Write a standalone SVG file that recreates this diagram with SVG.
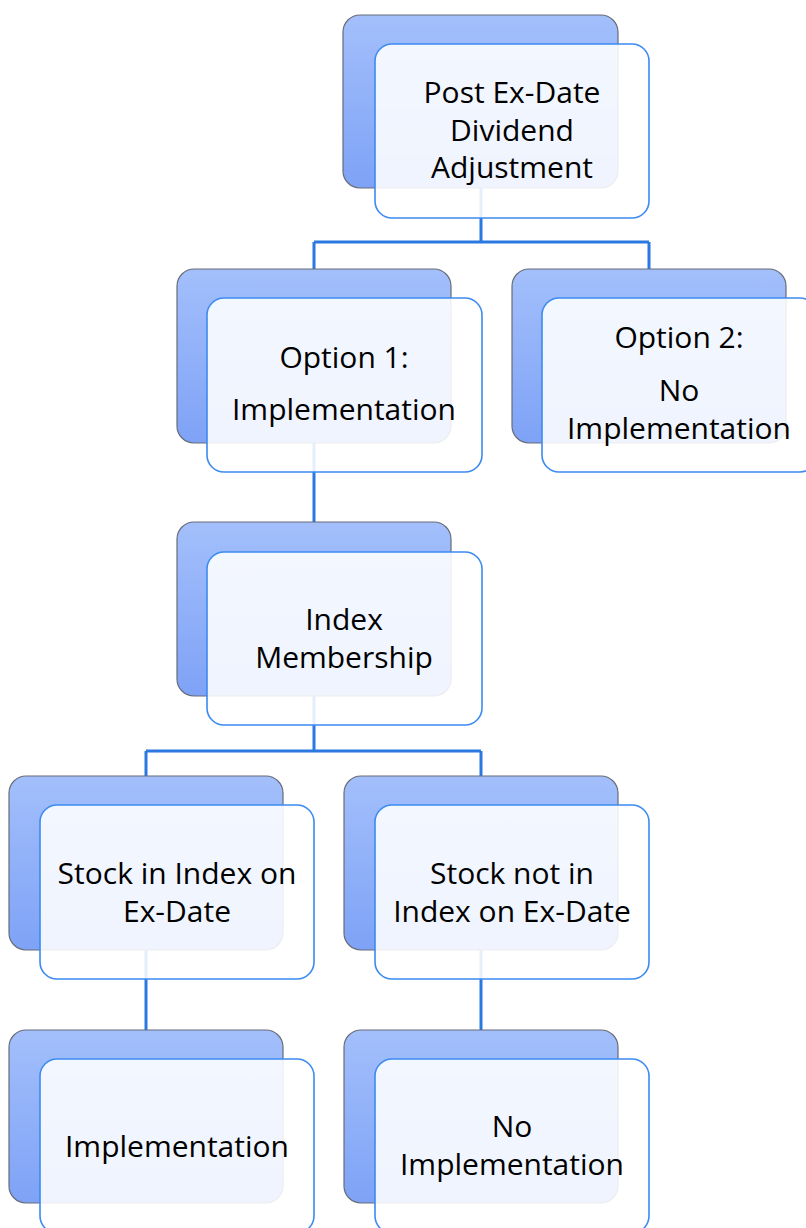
<svg xmlns="http://www.w3.org/2000/svg" width="806" height="1228" viewBox="0 0 806 1228">
  <defs>
    <linearGradient id="backFill" x1="0" y1="0" x2="0" y2="1">
      <stop offset="0" stop-color="#a3bffb"/>
      <stop offset="1" stop-color="#7ea2f6"/>
    </linearGradient>
    <style>
      .back { fill: url(#backFill); stroke: #676c78; stroke-width: 1.2; }
      .front { fill: #ffffff; fill-opacity: 0.88; stroke: #3b8bf2; stroke-width: 1.6; }
      .conn { fill: none; stroke: #2a78e0; stroke-width: 3; }
      .label { font-family: "Open Sans", "Noto Sans", sans-serif; font-size: 30px; fill: #000000; text-anchor: middle; }
    </style>
  </defs>
  <rect width="806" height="1228" fill="#ffffff"/>

  <g id="connectors">
    <path class="conn" d="M481 188 V242 M314 242 H649 M314 242 V269 M649 242 V269"/>
    <path class="conn" d="M314 443 V522"/>
    <path class="conn" d="M314 696 V751 M146 751 H481 M146 751 V776 M481 751 V776"/>
    <path class="conn" d="M146 950 V1030"/>
    <path class="conn" d="M481 950 V1030"/>
  </g>

  <g id="node-root">
    <rect class="back" x="343" y="15" width="275" height="173" rx="17"/>
    <rect class="front" x="375" y="44" width="274" height="174" rx="17"/>
    <text class="label" x="512" y="103">Post Ex-Date</text>
    <text class="label" x="512" y="141">Dividend</text>
    <text class="label" x="512" y="178">Adjustment</text>
  </g>

  <g id="node-option1">
    <rect class="back" x="177" y="269" width="274" height="174" rx="17"/>
    <rect class="front" x="207" y="298" width="275" height="174" rx="17"/>
    <text class="label" x="344" y="368">Option 1:</text>
    <text class="label" x="344" y="420">Implementation</text>
  </g>

  <g id="node-option2">
    <rect class="back" x="512" y="269" width="274" height="174" rx="17"/>
    <rect class="front" x="542" y="298" width="275" height="174" rx="17"/>
    <text class="label" x="679" y="348">Option 2:</text>
    <text class="label" x="679" y="401">No</text>
    <text class="label" x="679" y="439">Implementation</text>
  </g>

  <g id="node-index">
    <rect class="back" x="177" y="522" width="274" height="174" rx="17"/>
    <rect class="front" x="207" y="552" width="275" height="173" rx="17"/>
    <text class="label" x="344" y="630">Index</text>
    <text class="label" x="344" y="668">Membership</text>
  </g>

  <g id="node-in-index">
    <rect class="back" x="9" y="776" width="274" height="174" rx="17"/>
    <rect class="front" x="40" y="805" width="274" height="174" rx="17"/>
    <text class="label" x="177" y="884">Stock in Index on</text>
    <text class="label" x="177" y="922">Ex-Date</text>
  </g>

  <g id="node-not-in-index">
    <rect class="back" x="344" y="776" width="274" height="174" rx="17"/>
    <rect class="front" x="375" y="805" width="274" height="174" rx="17"/>
    <text class="label" x="512" y="884">Stock not in</text>
    <text class="label" x="512" y="922">Index on Ex-Date</text>
  </g>

  <g id="node-implementation">
    <rect class="back" x="9" y="1030" width="274" height="173" rx="17"/>
    <rect class="front" x="40" y="1059" width="274" height="174" rx="17"/>
    <text class="label" x="177" y="1157">Implementation</text>
  </g>

  <g id="node-no-implementation">
    <rect class="back" x="344" y="1030" width="274" height="173" rx="17"/>
    <rect class="front" x="375" y="1059" width="274" height="174" rx="17"/>
    <text class="label" x="512" y="1137">No</text>
    <text class="label" x="512" y="1175">Implementation</text>
  </g>
</svg>
